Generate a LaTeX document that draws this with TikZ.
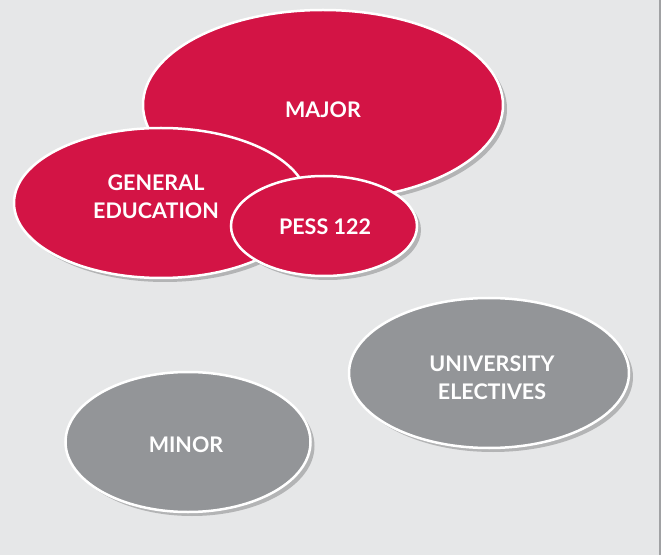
\documentclass[tikz,border=0pt]{standalone}
\usepackage{fontspec}
\setmainfont{Lato}
\usetikzlibrary{shapes.geometric,shadows}
\definecolor{bg}{RGB}{230,231,232}
\definecolor{edge}{RGB}{160,161,163}
\definecolor{redfill}{RGB}{211,20,69}
\definecolor{grayfill}{RGB}{147,149,152}
\tikzset{
  lbl/.style={text=white, font=\fontsize{21.5}{28}\selectfont\bfseries, align=center},
  blob/.style={ellipse, draw=white, line width=2.5pt, inner sep=0pt, lbl,
    drop shadow={shadow xshift=4pt, shadow yshift=-4pt, opacity=0.22, fill=black}},
  redblob/.style={blob, fill=redfill},
  grayblob/.style={blob, fill=grayfill}
}
\begin{document}
\begin{tikzpicture}[x=1pt,y=1pt]
\useasboundingbox (0,0) rectangle (664,555);
\fill[white] (0,0) rectangle (664,555);
\fill[bg] (0,0) rectangle (660,555);
\draw[edge, line width=1.2pt] (660,0) -- (660,555);
\node[redblob, minimum width=360pt, minimum height=190pt] (major) at (323,450) {};
\node[lbl] (majort) at (323,445) {MAJOR};
\node[redblob, minimum width=294pt, minimum height=150pt] (gened) at (161,352) {};
\node[lbl] (genedt) at (156,358) {GENERAL\\EDUCATION};
\node[redblob, minimum width=186pt, minimum height=100pt] (pess) at (324,329) {};
\node[lbl] (pesst) at (325,328) {PESS 122};
\node[grayblob, minimum width=280pt, minimum height=150pt] (univ) at (489,182) {};
\node[lbl] (univt) at (492,177) {UNIVERSITY\\ELECTIVES};
\node[grayblob, minimum width=245pt, minimum height=140pt] (minor) at (188,113) {};
\node[lbl] (minort) at (186,110) {MINOR};
\end{tikzpicture}
\end{document}
